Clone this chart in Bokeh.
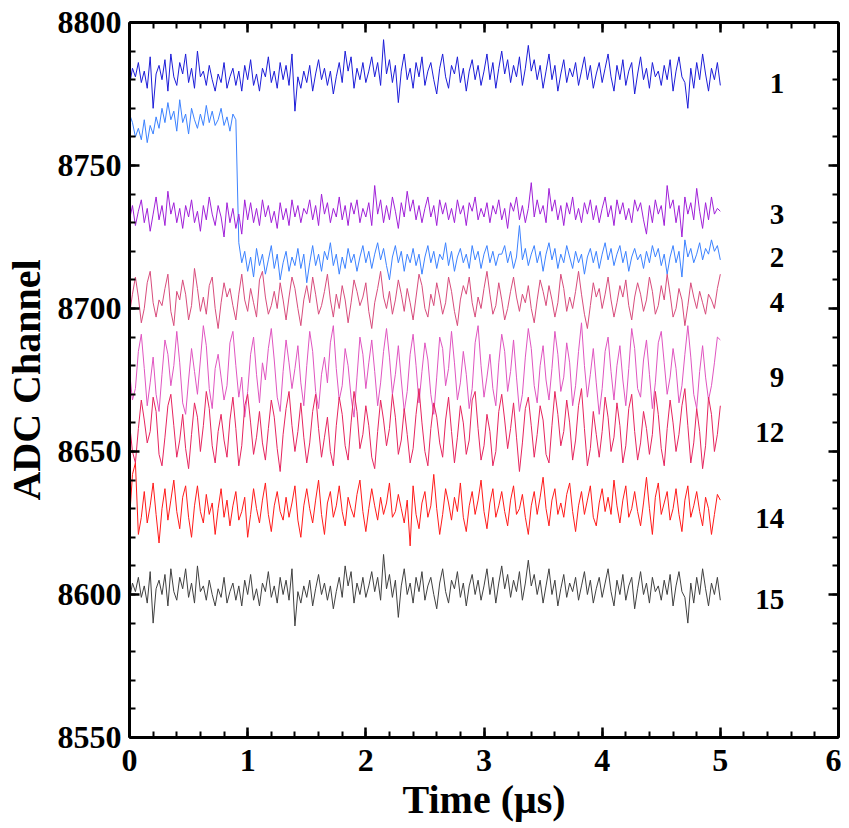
import numpy as np
from bokeh.plotting import figure
from bokeh.models import Range1d, LinearAxis, SingleIntervalTicker, Label
from bokeh.embed import file_html
from bokeh.resources import INLINE

# sampling times (µs)
time_us = np.linspace(0.0, 5.0, 201)

ch1 = [8778, 8784, 8781, 8786, 8779, 8783, 8777, 8788, 8770, 8782, 8785, 8780, 8787, 8776, 8789, 8781, 8778, 8786, 8782, 8789,
       8779, 8784, 8777, 8790, 8781, 8783, 8778, 8785, 8780, 8776, 8782, 8779, 8786, 8777, 8781, 8784, 8778, 8783, 8776, 8785,
       8780, 8787, 8778, 8782, 8776, 8784, 8781, 8788, 8779, 8783, 8777, 8786, 8780, 8785, 8778, 8789, 8769, 8781, 8777, 8783,
       8779, 8785, 8776, 8782, 8787, 8780, 8784, 8778, 8783, 8775, 8781, 8786, 8779, 8790, 8783, 8788, 8777, 8784, 8780, 8786,
       8779, 8783, 8788, 8781, 8786, 8778, 8794, 8782, 8787, 8779, 8785, 8772, 8783, 8789, 8780, 8784, 8777, 8786, 8781, 8788,
       8778, 8783, 8786, 8780, 8775, 8784, 8789, 8781, 8777, 8785, 8782, 8788, 8779, 8784, 8776, 8783, 8787, 8780, 8785, 8778,
       8783, 8789, 8780, 8786, 8777, 8784, 8790, 8782, 8787, 8779, 8785, 8781, 8788, 8778, 8784, 8792, 8783, 8787, 8780, 8785,
       8777, 8783, 8789, 8780, 8785, 8776, 8782, 8787, 8779, 8784, 8781, 8786, 8778, 8783, 8788, 8780, 8785, 8777, 8782, 8786,
       8779, 8784, 8789, 8781, 8776, 8785, 8780, 8787, 8778, 8783, 8786, 8775, 8782, 8788, 8780, 8784, 8777, 8786, 8781, 8783,
       8778, 8785, 8780, 8787, 8776, 8783, 8788, 8781, 8779, 8770, 8784, 8777, 8786, 8780, 8789, 8782, 8776, 8784, 8780, 8786, 8778]

ch2 = [8768, 8765, 8760, 8763, 8759, 8766, 8758, 8764, 8761, 8767, 8763, 8770, 8765, 8772, 8766, 8769, 8762, 8773, 8765, 8768,
       8761, 8770, 8766, 8763, 8768, 8764, 8771, 8765, 8769, 8764, 8766, 8770, 8764, 8767, 8762, 8768, 8766,
       8723, 8716, 8720, 8713, 8718, 8711, 8721, 8715, 8719, 8712, 8717, 8722, 8714, 8719, 8710, 8716, 8720, 8713, 8718, 8715,
       8721, 8714, 8719, 8709, 8716, 8722, 8715, 8719, 8713, 8720, 8717, 8723, 8715, 8719, 8712, 8718, 8714, 8721, 8716, 8719,
       8713, 8718, 8722, 8716, 8720, 8714, 8719, 8723, 8717, 8721, 8715, 8710, 8718, 8722, 8716, 8720, 8713, 8719, 8716, 8721,
       8715, 8719, 8712, 8718, 8722, 8716, 8720, 8714, 8719, 8717, 8723, 8715, 8720, 8713, 8718, 8721, 8716, 8719, 8714, 8722,
       8717, 8720, 8714, 8719, 8722, 8716, 8720, 8715, 8719, 8719, 8722, 8716, 8720, 8714, 8718, 8729, 8717, 8721, 8715, 8719,
       8722, 8716, 8720, 8713, 8719, 8723, 8717, 8721, 8714, 8719, 8716, 8722, 8718, 8714, 8720, 8716, 8719, 8712, 8718, 8721,
       8716, 8720, 8714, 8719, 8723, 8717, 8721, 8715, 8719, 8722, 8716, 8720, 8713, 8718, 8721, 8717, 8719, 8714, 8720, 8716,
       8722, 8718, 8721, 8715, 8719, 8712, 8718, 8722, 8716, 8720, 8711, 8724, 8718, 8721, 8716, 8719, 8723, 8717, 8721, 8719,
       8724, 8720, 8722, 8717]

ch3 = [8731, 8736, 8729, 8734, 8738, 8730, 8735, 8727, 8733, 8739, 8731, 8736, 8729, 8741, 8733, 8737, 8730, 8735, 8728, 8736,
       8732, 8738, 8730, 8734, 8727, 8736, 8731, 8739, 8733, 8729, 8736, 8732, 8725, 8737, 8730, 8735, 8728, 8733, 8726, 8738,
       8731, 8737, 8730, 8735, 8729, 8738, 8732, 8736, 8730, 8734, 8728, 8737, 8731, 8735, 8729, 8738, 8732, 8736, 8730, 8735,
       8733, 8738, 8731, 8736, 8729, 8740, 8733, 8737, 8730, 8735, 8732, 8739, 8731, 8736, 8729, 8737, 8733, 8738, 8730, 8735,
       8732, 8737, 8729, 8743, 8733, 8738, 8730, 8736, 8731, 8739, 8734, 8728, 8737, 8732, 8741, 8734, 8738, 8731, 8736, 8730,
       8735, 8739, 8732, 8736, 8729, 8738, 8733, 8737, 8731, 8735, 8730, 8738, 8733, 8736, 8729, 8737, 8734, 8739, 8731, 8735,
       8732, 8737, 8730, 8736, 8733, 8738, 8731, 8735, 8728, 8737, 8734, 8739, 8731, 8736, 8730, 8735, 8744, 8732, 8738, 8733,
       8736, 8730, 8742, 8734, 8738, 8731, 8736, 8729, 8737, 8733, 8739, 8731, 8735, 8730, 8737, 8733, 8738, 8731, 8736, 8730,
       8735, 8739, 8732, 8736, 8729, 8738, 8733, 8737, 8731, 8735, 8730, 8738, 8734, 8737, 8731, 8726, 8736, 8730, 8738, 8733,
       8736, 8729, 8743, 8735, 8738, 8730, 8736, 8725, 8739, 8733, 8737, 8731, 8742, 8734, 8728, 8737, 8731, 8739, 8733, 8735, 8734]

ch4 = [8698, 8705, 8711, 8704, 8695, 8700, 8709, 8713, 8702, 8697, 8703, 8701, 8707, 8712, 8699, 8694, 8706, 8703, 8710, 8705,
       8696, 8701, 8714, 8707, 8699, 8704, 8698, 8708, 8711, 8700, 8693, 8702, 8709, 8704, 8707, 8701, 8696, 8705, 8712, 8703,
       8699, 8707, 8702, 8697, 8710, 8713, 8704, 8698, 8701, 8706, 8700, 8709, 8703, 8696, 8704, 8711, 8707, 8700, 8694, 8703,
       8708, 8702, 8711, 8705, 8698, 8701, 8706, 8712, 8703, 8697, 8705, 8700, 8708, 8703, 8695, 8702, 8710, 8706, 8701, 8704,
       8709, 8699, 8693, 8702, 8707, 8713, 8704, 8700, 8706, 8698, 8703, 8710, 8705, 8699, 8707, 8702, 8696, 8704, 8712, 8708,
       8700, 8697, 8705, 8701, 8709, 8704, 8698, 8702, 8711, 8706, 8699, 8694, 8703, 8708, 8705, 8711, 8702, 8697, 8704, 8700,
       8707, 8713, 8705, 8698, 8701, 8709, 8703, 8696, 8700, 8706, 8711, 8704, 8699, 8705, 8702, 8708, 8700, 8695, 8703, 8710,
       8706, 8701, 8708, 8703, 8697, 8702, 8712, 8707, 8699, 8704, 8700, 8706, 8713, 8705, 8698, 8693, 8701, 8709, 8704, 8707,
       8700, 8705, 8711, 8703, 8697, 8702, 8708, 8704, 8710, 8701, 8696, 8704, 8709, 8705, 8699, 8703, 8711, 8706, 8698, 8701,
       8708, 8703, 8712, 8705, 8697, 8700, 8707, 8703, 8694, 8701, 8709, 8704, 8700, 8706, 8702, 8698, 8705, 8703, 8700, 8707, 8712]

ch9 = [8678, 8668, 8672, 8685, 8691, 8679, 8666, 8674, 8683, 8670, 8664, 8677, 8689, 8684, 8673, 8680, 8692, 8681, 8667, 8663,
       8675, 8686, 8678, 8670, 8682, 8694, 8687, 8672, 8665, 8679, 8684, 8676, 8668, 8673, 8688, 8692, 8680, 8669, 8676, 8662,
       8671, 8684, 8690, 8677, 8667, 8681, 8675, 8686, 8693, 8682, 8669, 8664, 8678, 8689, 8681, 8672, 8679, 8687, 8674, 8666,
       8680, 8692, 8685, 8671, 8665, 8677, 8683, 8674, 8688, 8694, 8679, 8668, 8673, 8686, 8680, 8669, 8662, 8676, 8690, 8684,
       8672, 8681, 8689, 8678, 8666, 8674, 8685, 8693, 8683, 8670, 8677, 8687, 8675, 8664, 8671, 8684, 8691, 8680, 8667, 8678,
       8688, 8682, 8670, 8663, 8676, 8690, 8686, 8673, 8679, 8692, 8681, 8668, 8674, 8685, 8677, 8665, 8672, 8688, 8694, 8680,
       8669, 8676, 8684, 8672, 8666, 8681, 8691, 8685, 8671, 8678, 8689, 8676, 8664, 8670, 8683, 8693, 8686, 8673, 8667, 8680,
       8687, 8675, 8668, 8679, 8692, 8684, 8671, 8676, 8688, 8681, 8666, 8673, 8685, 8695, 8680, 8669, 8677, 8686, 8674, 8663,
       8672, 8685, 8690, 8678, 8668, 8680, 8687, 8675, 8666, 8679, 8693, 8686, 8672, 8669, 8682, 8689, 8677, 8665, 8674, 8688,
       8692, 8681, 8670, 8676, 8686, 8679, 8667, 8673, 8684, 8694, 8683, 8670, 8665, 8678, 8687, 8676, 8668, 8673, 8681, 8690, 8689]

ch12 = [8660, 8650, 8646, 8658, 8668, 8661, 8653, 8657, 8669, 8664, 8649, 8645, 8655, 8666, 8670, 8659, 8648, 8654, 8663, 8651,
        8644, 8656, 8667, 8662, 8650, 8659, 8671, 8665, 8652, 8646, 8657, 8663, 8654, 8648, 8661, 8669, 8658, 8645, 8652, 8666,
        8670, 8660, 8649, 8655, 8664, 8653, 8647, 8658, 8668, 8662, 8651, 8643, 8656, 8665, 8671, 8659, 8650, 8657, 8667, 8655,
        8646, 8653, 8664, 8670, 8658, 8648, 8655, 8662, 8650, 8645, 8659, 8669, 8663, 8652, 8647, 8660, 8671, 8664, 8651, 8656,
        8666, 8659, 8648, 8644, 8657, 8668, 8661, 8652, 8658, 8670, 8662, 8649, 8654, 8665, 8656, 8646, 8651, 8663, 8672, 8660,
        8650, 8645, 8658, 8667, 8662, 8653, 8648, 8661, 8669, 8657, 8646, 8655, 8666, 8660, 8649, 8654, 8668, 8671, 8658, 8647,
        8652, 8663, 8657, 8645, 8650, 8664, 8670, 8661, 8651, 8658, 8667, 8655, 8643, 8653, 8665, 8669, 8659, 8648, 8656, 8666,
        8661, 8649, 8646, 8659, 8671, 8663, 8652, 8657, 8668, 8660, 8647, 8654, 8666, 8672, 8658, 8645, 8651, 8664, 8656, 8648,
        8657, 8669, 8662, 8650, 8655, 8667, 8659, 8646, 8652, 8665, 8670, 8657, 8647, 8653, 8664, 8658, 8649, 8656, 8671, 8663,
        8651, 8645, 8658, 8668, 8660, 8650, 8656, 8666, 8672, 8659, 8646, 8653, 8665, 8657, 8644, 8652, 8669, 8663, 8650, 8656, 8666]

ch14 = [8626, 8642, 8646, 8621, 8627, 8636, 8625, 8631, 8639, 8628, 8618, 8630, 8637, 8626, 8633, 8640, 8629, 8623, 8634, 8638,
        8627, 8620, 8631, 8638, 8629, 8625, 8635, 8628, 8632, 8621, 8630, 8637, 8627, 8633, 8624, 8631, 8636, 8626, 8629, 8634,
        8620, 8628, 8637, 8630, 8625, 8633, 8639, 8628, 8622, 8631, 8636, 8629, 8626, 8634, 8627, 8632, 8638, 8626, 8620, 8631,
        8637, 8630, 8625, 8633, 8640, 8628, 8621, 8632, 8636, 8627, 8631, 8638, 8629, 8624, 8634, 8630, 8627, 8635, 8640, 8629,
        8622, 8630, 8637, 8631, 8626, 8634, 8628, 8632, 8639, 8627, 8629, 8635, 8630, 8625, 8633, 8617, 8638, 8628, 8623, 8632,
        8636, 8627, 8631, 8642, 8630, 8621, 8628, 8637, 8632, 8626, 8634, 8629, 8639, 8627, 8622, 8631, 8636, 8628, 8633, 8640,
        8629, 8623, 8632, 8637, 8627, 8631, 8636, 8629, 8624, 8633, 8638, 8628, 8630, 8635, 8627, 8621, 8631, 8636, 8628, 8634,
        8641, 8630, 8624, 8633, 8637, 8628, 8632, 8627, 8635, 8639, 8629, 8622, 8631, 8636, 8628, 8633, 8638, 8627, 8624, 8632,
        8637, 8629, 8634, 8628, 8640, 8631, 8625, 8633, 8638, 8627, 8630, 8636, 8629, 8624, 8632, 8641, 8630, 8621, 8634, 8639,
        8628, 8632, 8636, 8626, 8630, 8637, 8628, 8622, 8633, 8638, 8627, 8631, 8636, 8629, 8624, 8634, 8630, 8621, 8628, 8635, 8633]

ch15 = [8598, 8604, 8601, 8606, 8599, 8603, 8597, 8608, 8590, 8602, 8605, 8600, 8607, 8596, 8609, 8601, 8598, 8606, 8602, 8609,
        8599, 8604, 8597, 8610, 8601, 8603, 8598, 8605, 8600, 8596, 8602, 8599, 8606, 8597, 8601, 8604, 8598, 8603, 8596, 8605,
        8600, 8607, 8598, 8602, 8596, 8604, 8601, 8608, 8599, 8603, 8597, 8606, 8600, 8605, 8598, 8609, 8589, 8601, 8597, 8603,
        8599, 8605, 8596, 8602, 8607, 8600, 8604, 8598, 8603, 8595, 8601, 8606, 8599, 8610, 8603, 8608, 8597, 8604, 8600, 8606,
        8599, 8603, 8608, 8601, 8606, 8598, 8614, 8602, 8607, 8599, 8605, 8592, 8603, 8609, 8600, 8604, 8597, 8606, 8601, 8608,
        8598, 8603, 8606, 8600, 8595, 8604, 8609, 8601, 8597, 8605, 8602, 8608, 8599, 8604, 8596, 8603, 8607, 8600, 8605, 8598,
        8603, 8609, 8600, 8606, 8597, 8604, 8610, 8602, 8607, 8599, 8605, 8601, 8608, 8598, 8604, 8612, 8603, 8607, 8600, 8605,
        8597, 8603, 8609, 8600, 8605, 8596, 8602, 8607, 8599, 8604, 8601, 8606, 8598, 8603, 8608, 8600, 8605, 8597, 8602, 8606,
        8599, 8604, 8609, 8601, 8596, 8605, 8600, 8607, 8598, 8603, 8606, 8595, 8602, 8608, 8600, 8604, 8597, 8606, 8601, 8603,
        8598, 8605, 8600, 8607, 8596, 8603, 8608, 8601, 8599, 8590, 8604, 8597, 8606, 8600, 8609, 8602, 8596, 8604, 8600, 8606, 8598]

series_names = ["1", "2", "3", "4", "9", "12", "14", "15"]
series_values = [ch1, ch2, ch3, ch4, ch9, ch12, ch14, ch15]
series_colors = ["#1C1CD8", "#3C82FF", "#A020D8", "#D84C7C", "#E055C0", "#E6245E", "#FF1A1A", "#404040"]
label_x = 5.54
label_y = [8778.6, 8717.9, 8732.9, 8702.2, 8676.0, 8656.5, 8626.7, 8598.3]

FONT = "Liberation Serif"

p = figure(width=841, height=828, output_backend="svg", toolbar_location=None,
           x_range=Range1d(0, 6), y_range=Range1d(8550, 8800),
           min_border_left=127, min_border_right=3, min_border_top=22, min_border_bottom=91)
p.xgrid.visible = False
p.ygrid.visible = False
p.outline_line_color = None
p.background_fill_color = "white"

for vals, col in zip(series_values, series_colors):
    p.line(time_us, vals, line_color=col, line_width=1)

for name, ly in zip(series_names, label_y):
    p.add_layout(Label(x=label_x, y=ly, text=name, text_align="right", text_baseline="middle",
                       text_font=FONT, text_font_style="bold", text_font_size="29px", text_color="black"))

def style_axis(ax, show_labels):
    ax.axis_line_width = 3
    ax.axis_line_color = "black"
    ax.major_tick_in = 10
    ax.major_tick_out = 0
    ax.minor_tick_in = 6
    ax.minor_tick_out = 0
    ax.major_tick_line_width = 2.5
    ax.minor_tick_line_width = 2
    ax.major_tick_line_color = "black"
    ax.minor_tick_line_color = "black"
    if show_labels:
        ax.major_label_text_font = FONT
        ax.major_label_text_font_style = "bold"
        ax.major_label_text_font_size = "32px"
        ax.major_label_text_color = "black"
        ax.axis_label_text_font = FONT
        ax.axis_label_text_font_style = "bold"
        ax.axis_label_text_font_size = "40px"
        ax.axis_label_text_color = "black"
    else:
        ax.major_label_text_font_size = "1px"
        ax.major_label_text_color = None
        ax.major_label_standoff = 0

p.xaxis.ticker = SingleIntervalTicker(interval=1, num_minor_ticks=5)
p.yaxis.ticker = SingleIntervalTicker(interval=50, num_minor_ticks=5)
p.xaxis.axis_label = "Time (μs)"
p.yaxis.axis_label = "ADC Channel"
style_axis(p.xaxis[0], True)
style_axis(p.yaxis[0], True)
p.xaxis.major_label_standoff = 12
p.xaxis.axis_label_standoff = 3
p.yaxis.major_label_standoff = 8
p.yaxis.axis_label_standoff = 6

top = LinearAxis(ticker=SingleIntervalTicker(interval=1, num_minor_ticks=5))
right = LinearAxis(ticker=SingleIntervalTicker(interval=50, num_minor_ticks=5))
style_axis(top, False)
style_axis(right, False)
p.add_layout(top, "above")
p.add_layout(right, "right")

open("out.html", "w").write(file_html(p, INLINE))
